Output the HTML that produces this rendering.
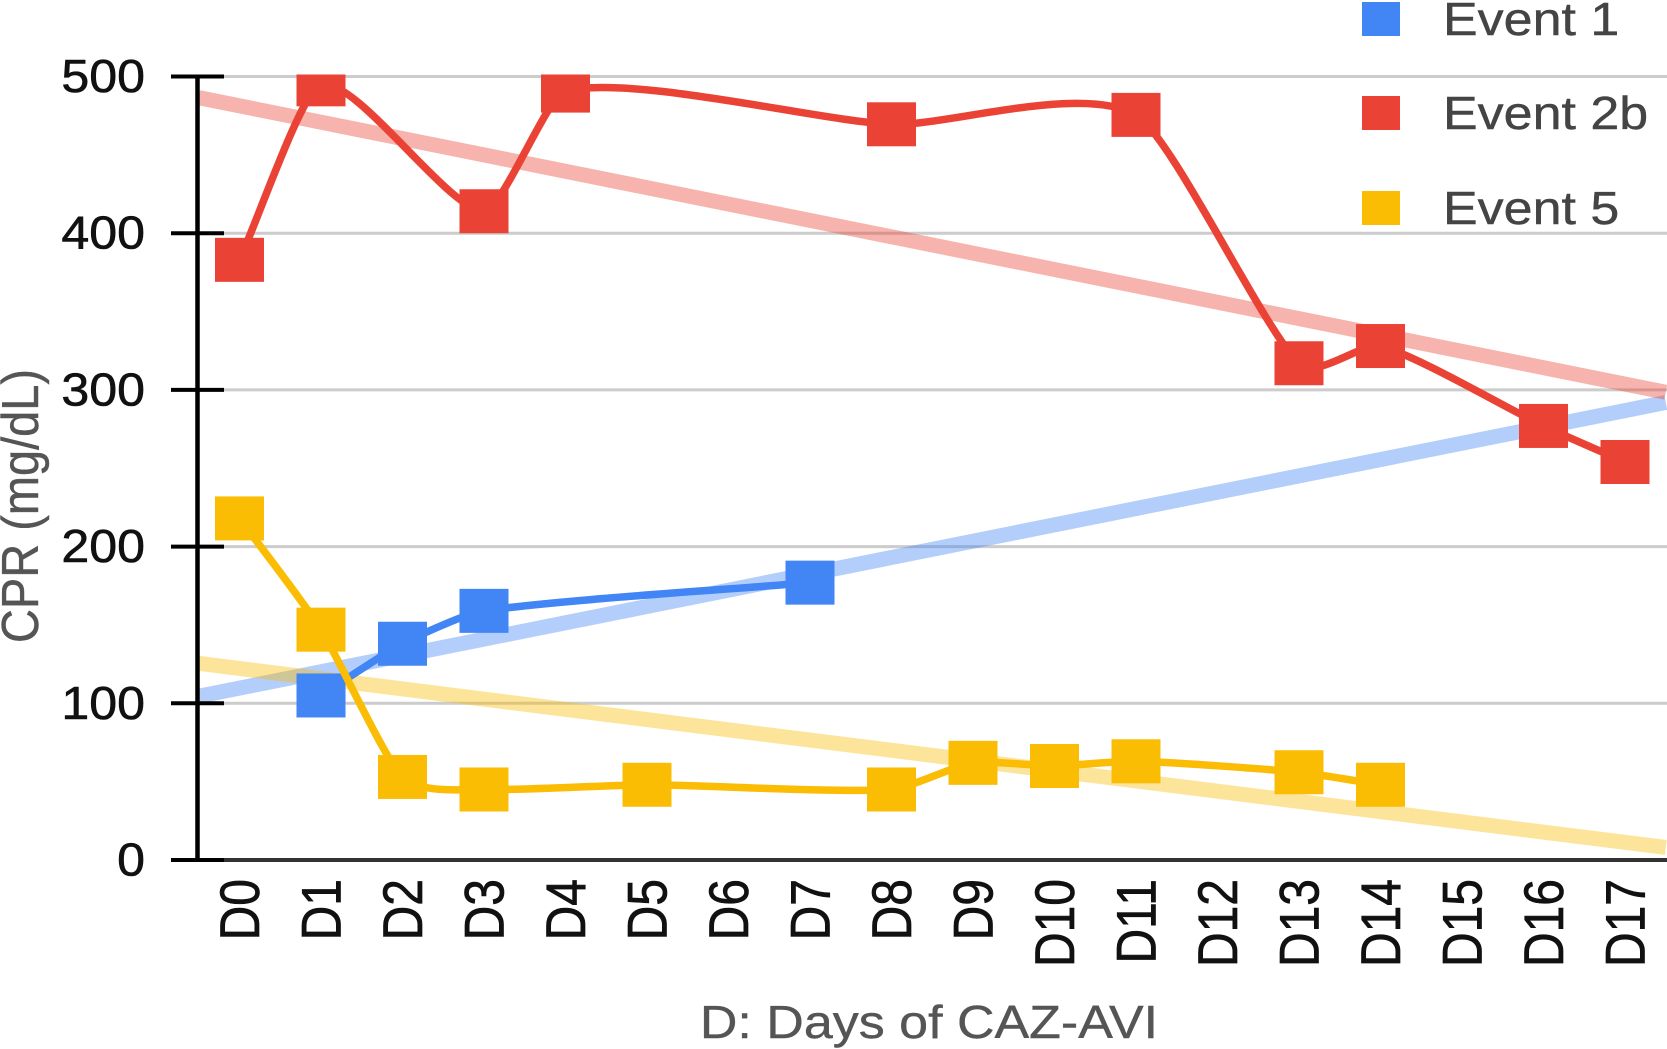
<!DOCTYPE html>
<html lang="en">
<head>
<meta charset="utf-8">
<title>CPR by day of CAZ-AVI</title>
<style>
html,body{margin:0;padding:0;background:#fff;}
#chart{display:block;width:1667px;height:1049px;font-family:"Liberation Sans",sans-serif;}
</style>
</head>
<body>
<svg id="chart" xmlns="http://www.w3.org/2000/svg" width="1667" height="1049" viewBox="0 0 1667 1049">
  <defs>
    <clipPath id="plot-clip"><rect x="197" y="74.5" width="1470" height="790"></rect></clipPath>
  </defs>
</svg>
<script>
const categories = ['D0','D1','D2','D3','D4','D5','D6','D7','D8','D9','D10','D11','D12','D13','D14','D15','D16','D17'];
const yTicks = [0,100,200,300,400,500];
const seriesNames = ['Event 1','Event 2b','Event 5'];
const event1Values = [null,105,138,159,null,null,null,177,null,null,null,null,null,null,null,null,null,null];
const event2bValues = [383,495,null,414,491,null,null,null,469.5,null,null,475.5,null,317,328,null,277,254];
const event5Values = [218,147,53,45,null,48,null,null,45,62,60,63,null,56,48,null,null,null];
const event1Trend = [104.5,292];
const event2bTrend = [486.5,298.5];
const event5Trend = [125.5,8];
const trendRange = [-0.5,17.5];

const svg = document.getElementById('chart');
const NS = 'http://www.w3.org/2000/svg';
const colors = ['#4285f4','#ea4335','#fbbc04'];
const xPos = i => 239.5 + 81.5 * i;
const yPos = v => 860 - v * 1.567;

function make(tag, attrs, parent) {
  const el = document.createElementNS(NS, tag);
  for (const k in attrs) el.setAttribute(k, attrs[k]);
  (parent || svg).appendChild(el);
  return el;
}
function label(str, x, y, size, fill, anchor, rot, sx, weight) {
  const el = make('text', {
    transform: 'translate(' + x + ',' + y + ') scale(' + sx + ',1) rotate(' + rot + ')',
    'font-size': size, fill: fill, 'text-anchor': anchor,
    stroke: fill, 'stroke-width': weight
  });
  el.textContent = str;
  return el;
}
function smoothPath(values) {
  const pts = [];
  values.forEach((v, i) => { if (v !== null) pts.push([xPos(i), yPos(v)]); });
  const slope = k => {
    const a = pts[Math.max(k - 1, 0)], b = pts[Math.min(k + 1, pts.length - 1)];
    return (b[1] - a[1]) / (b[0] - a[0]);
  };
  let d = 'M' + pts[0][0] + ' ' + pts[0][1];
  for (let k = 0; k < pts.length - 1; k++) {
    const p = pts[k], q = pts[k + 1], dx = (q[0] - p[0]) * 0.22;
    d += ' C' + (p[0] + dx) + ' ' + (p[1] + slope(k) * dx) + ' ' +
         (q[0] - dx) + ' ' + (q[1] - slope(k + 1) * dx) + ' ' + q[0] + ' ' + q[1];
  }
  return d;
}

// Gridlines
yTicks.forEach(t => {
  if (t === 0) return;
  const g = make('line', {x1: 224, x2: 1667, y1: yPos(t), y2: yPos(t), stroke: '#cccccc', 'stroke-width': 3});
  
  
});

// Plot area: trendlines, then series lines and markers
const plot = make('g', {'clip-path': 'url(#plot-clip)'});



const trends = [event1Trend, event2bTrend, event5Trend];
const seriesValues = [event1Values, event2bValues, event5Values];
trends.forEach((tr, s) => {
  const l = make('line', {
    x1: xPos(trendRange[0]), x2: xPos(trendRange[1]), y1: yPos(tr[0]), y2: yPos(tr[1]),
    stroke: colors[s], 'stroke-width': 15, 'stroke-opacity': 0.4
  }, plot);
  
  
});
seriesValues.forEach((vals, s) => {
  const slug = seriesNames[s].toLowerCase().replace(' ', '-');
  const p = make('path', {d: smoothPath(vals), fill: 'none', stroke: colors[s], 'stroke-width': 7.5, 'stroke-linejoin': 'round'}, plot);
  
  
  vals.forEach((v, i) => {
    if (v === null) return;
    const m = make('rect', {x: xPos(i) - 24.5, y: yPos(v) - 22, width: 49, height: 44, fill: colors[s]}, plot);
    
    
  });
});

// Axes
const yAxis = make('line', {x1: 197.5, x2: 197.5, y1: 75, y2: 862, stroke: '#000', 'stroke-width': 4.5});


const xAxis = make('line', {x1: 171, x2: 1667, y1: yPos(0), y2: yPos(0), stroke: '#333', 'stroke-width': 4});



yTicks.forEach(t => {
  const tick = make('line', {x1: 171, x2: 224, y1: yPos(t), y2: yPos(t), stroke: '#000', 'stroke-width': 4});
  
  
  const txt = label(String(t), 145, yPos(t) + 15.5, 46, '#111', 'end', 0, 1.09, 0.6);
  
  
});
categories.forEach((c, i) => {
  const txt = label(c, xPos(i) + 19.5, 879, 48, '#111', 'end', -90, 1.15, 0.6);
  
  
});

// Titles
const yTitle = label('CPR (mg/dL)', 38, 506, 47, '#555', 'middle', -90, 1.1, 0.4);


const xTitle = label('D: Days of CAZ-AVI', 929, 1038, 46, '#555', 'middle', 0, 1.13, 0.4);



// Legend
const legendSquareTops = [2, 96, 191];
seriesNames.forEach((name, s) => {
  const slug = name.toLowerCase().replace(' ', '-');
  const sq = make('rect', {x: 1362, y: legendSquareTops[s], width: 38, height: 34, fill: colors[s]});
  
  
  const txt = label(name, 1443, legendSquareTops[s] + 33, 46, '#444', 'start', 0, 1.13, 0.4);
  
  
});
</script>
</body>
</html>
